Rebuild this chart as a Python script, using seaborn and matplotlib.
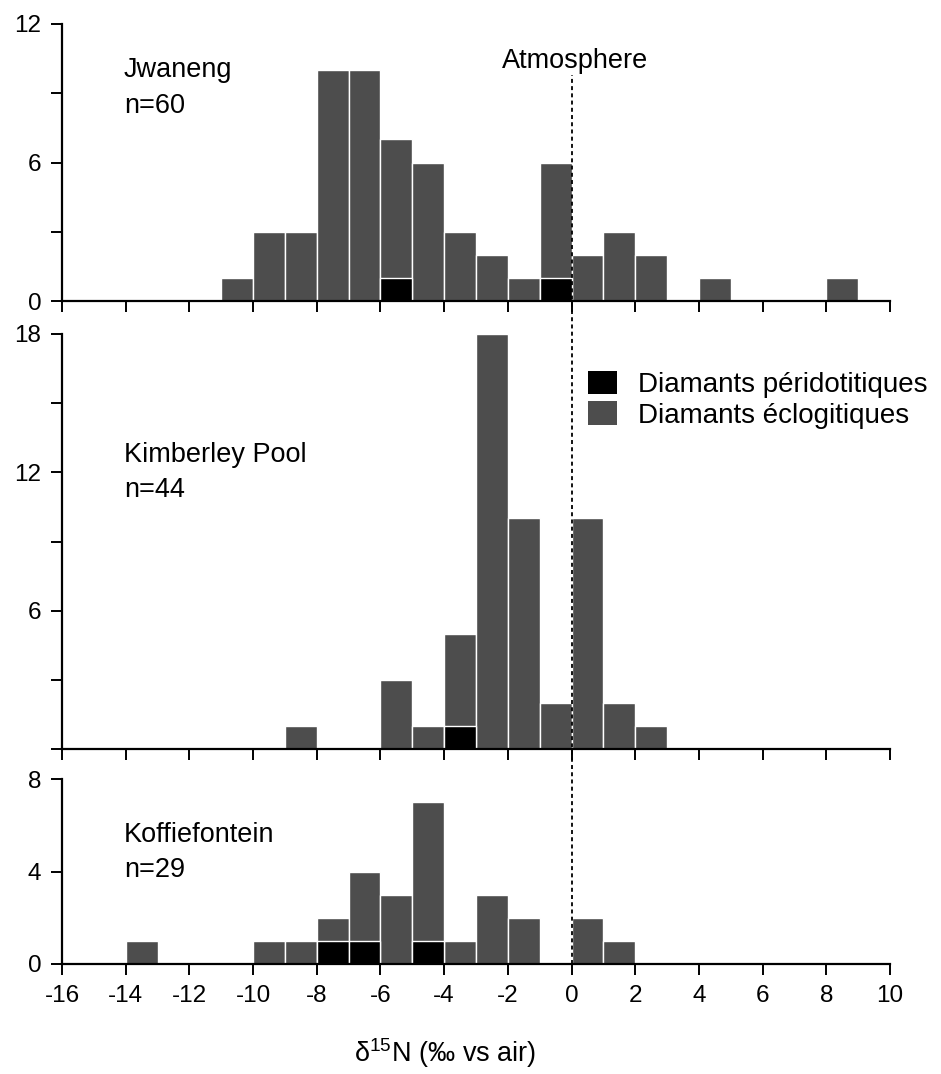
import numpy as np
import pandas as pd
import matplotlib
matplotlib.use("Agg")
import matplotlib.pyplot as plt
import seaborn as sns
from matplotlib.patches import Patch
from matplotlib.lines import Line2D
from matplotlib.transforms import blended_transform_factory

# ---- data (1 per-mil bins, left edges -16 .. 9) ----
bin_left = list(range(-16, 10))

jwaneng_total = [0, 0, 0, 0, 0, 1, 3, 3, 10, 10, 7, 6, 3, 2, 1, 6, 2, 3, 2, 0, 1, 0, 0, 0, 1, 0]
jwaneng_perid = [0, 0, 0, 0, 0, 0, 0, 0, 0, 0, 1, 0, 0, 0, 0, 1, 0, 0, 0, 0, 0, 0, 0, 0, 0, 0]

kimberley_total = [0, 0, 0, 0, 0, 0, 0, 1, 0, 0, 3, 1, 5, 18, 10, 2, 10, 2, 1, 0, 0, 0, 0, 0, 0, 0]
kimberley_perid = [0, 0, 0, 0, 0, 0, 0, 0, 0, 0, 0, 0, 1, 0, 0, 0, 0, 0, 0, 0, 0, 0, 0, 0, 0, 0]

koffie_total = [0, 0, 1, 0, 0, 0, 1, 1, 2, 4, 3, 7, 1, 3, 2, 0, 2, 1, 0, 0, 0, 0, 0, 0, 0, 0]
koffie_perid = [0, 0, 0, 0, 0, 0, 0, 0, 1, 1, 0, 1, 0, 0, 0, 0, 0, 0, 0, 0, 0, 0, 0, 0, 0, 0]

sites = ["Jwaneng", "Kimberley Pool", "Koffiefontein"]
site_n = ["n=60", "n=44", "n=29"]
x_ticks = list(range(-16, 11, 2))
legend_labels = ["Diamants péridotitiques", "Diamants éclogitiques"]
atmosphere_label = "Atmosphere"

ECL = "#4d4d4d"
PER = "#000000"

sns.set_style("ticks")
plt.rcParams["font.family"] = ["Liberation Sans", "DejaVu Sans"]
plt.rcParams["mathtext.fontset"] = "custom"
plt.rcParams["mathtext.rm"] = "Liberation Sans"
plt.rcParams["text.color"] = "black"
plt.rcParams["xtick.color"] = "black"
plt.rcParams["ytick.color"] = "black"
plt.rcParams["xtick.labelcolor"] = "black"
plt.rcParams["ytick.labelcolor"] = "black"

W, H = 941, 1074
fig = plt.figure(figsize=(W / 100, H / 100), dpi=100)
fig.patch.set_facecolor("white")

def fx(px):
    return px / W

def fy(py):
    return 1 - py / H

left = fx(62)
width = fx(890) - fx(62)
panels = [
    (24, 301, 12, [0, 6, 12], [0, 3, 6, 9, 12]),
    (334, 749, 18, [6, 12, 18], [0, 3, 6, 9, 12, 15, 18]),
    (779, 964, 8, [0, 4, 8], [0, 4, 8]),
]
totals = [jwaneng_total, kimberley_total, koffie_total]
perids = [jwaneng_perid, kimberley_perid, koffie_perid]

centers = np.array(bin_left, dtype=float) + 0.5

axes = []
for i, (top, bot, ymax, labticks, allticks) in enumerate(panels):
    ax = fig.add_axes([left, fy(bot), width, (bot - top) / H])
    axes.append(ax)
    df = pd.DataFrame({"x": centers, "total": totals[i], "perid": perids[i]})
    sns.histplot(data=df, x="x", weights="total", binwidth=1, binrange=(-16, 10),
                 ax=ax, color=ECL, alpha=1, edgecolor="white", linewidth=1.0, zorder=1)
    sns.histplot(data=df, x="x", weights="perid", binwidth=1, binrange=(-16, 10),
                 ax=ax, color=PER, alpha=1, edgecolor="white", linewidth=1.0, zorder=1.1)
    ax.set_xlim(-16, 10)
    ax.set_ylim(0, ymax)
    ax.set_xlabel("")
    ax.set_ylabel("")
    ax.set_facecolor("white")
    for s in ["top", "right"]:
        ax.spines[s].set_visible(False)
    for s in ["left", "bottom"]:
        ax.spines[s].set_linewidth(1.6)
        ax.spines[s].set_color("black")
        ax.spines[s].set_zorder(3)
    ax.set_xticks(x_ticks)
    ax.set_yticks(allticks)
    ax.set_yticklabels([str(t) if t in labticks else "" for t in allticks])
    ax.tick_params(axis="both", direction="out", length=8, width=1.4,
                   color="black", labelcolor="black", labelsize=17.5)
    ax.tick_params(axis="y", pad=7)
    if i < 2:
        ax.set_xticklabels([])
    else:
        ax.set_xticklabels([str(t) for t in x_ticks])
        ax.tick_params(axis="x", pad=7)
    ax.grid(False)

label_pos = [(77, 113), (462, 497), (842, 877)]
for (b1, b2), name, n in zip(label_pos, sites, site_n):
    fig.text(fx(124), fy(b1), name, fontsize=19.5, va="baseline", ha="left",
             color="black")
    fig.text(fx(124), fy(b2), n, fontsize=19.5, va="baseline", ha="left",
             color="black")

# atmosphere dashed line spanning all panels
trans = blended_transform_factory(axes[2].transData, fig.transFigure)
fig.add_artist(Line2D([0, 0], [fy(964), fy(75)], transform=trans, color="black",
                      linewidth=1.3, linestyle=(0, (2.2, 1.8)), zorder=5))
fig.text(fx(575), fy(68), atmosphere_label, fontsize=19.5, ha="center",
         va="baseline", color="black")

# legend
handles = [Patch(facecolor=PER, edgecolor="none"), Patch(facecolor=ECL, edgecolor="none")]
leg = fig.legend(handles, legend_labels, loc="upper left",
                 bbox_to_anchor=(fx(588), fy(371)), bbox_transform=fig.transFigure,
                 frameon=False, fontsize=20, handlelength=1.05, handleheight=0.9,
                 handletextpad=0.75, labelspacing=0.12, borderpad=0, borderaxespad=0)
for t in leg.get_texts():
    t.set_color("black")

fig.text(fx(445), fy(1062), r"δ$^{15}$N (‰ vs air)", fontsize=19.5, ha="center",
         va="baseline", color="black")

fig.savefig("out.png", dpi=100, facecolor="white")
